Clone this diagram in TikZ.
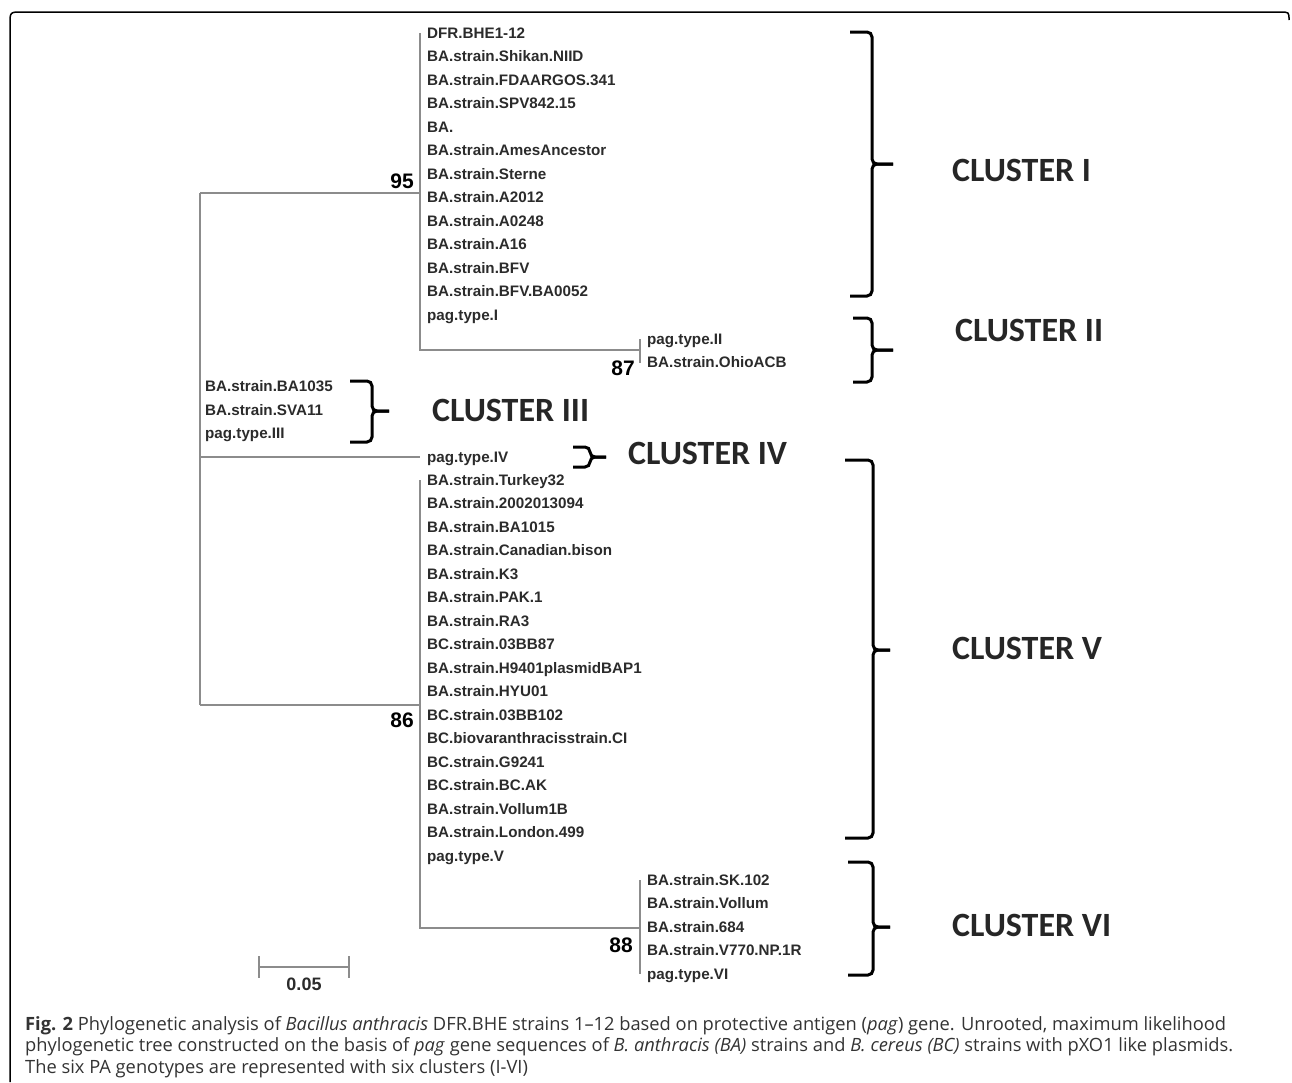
\documentclass[tikz,border=0pt]{standalone}
\usepackage{fontspec}
\usepackage{xcolor}
\usetikzlibrary{calc}
\newfontfamily\leaffont{Liberation Sans}
\newfontfamily\clfont{Carlito}
\newfontfamily\capfont{Open Sans}
\definecolor{branchgray}{HTML}{8C8C8C}
\definecolor{leafgray}{HTML}{2B2B2B}
\definecolor{capgray}{HTML}{333333}

\tikzset{
  branch/.style={branchgray, line width=1.4pt},
  leaf/.style={anchor=west, inner xsep=7pt, inner ysep=0pt, text height=10.7pt, text depth=0pt,
    text=leafgray, font=\leaffont\bfseries\fontsize{15.2}{18}\selectfont},
  boot/.style={anchor=east, inner sep=0pt, font=\leaffont\bfseries\fontsize{21}{24}\selectfont},
  clbrace/.style={line width=3pt, rounded corners=5pt},
  cllabel/.style={anchor=west, inner sep=0pt, text=black!85, font=\clfont\bfseries\fontsize{34}{40}\selectfont},
  caption/.style={anchor=north west, align=left, inner sep=0pt, text=capgray,
    font=\capfont\fontsize{18.3}{21.5}\selectfont},
}

% x0, x1, x2, top, mid, bottom
\newcommand{\clusterbrace}[6]{%
  \draw[clbrace] (#1,#4) -- (#2,#4) -- (#2,#5) -- (#3,#5);
  \draw[clbrace] (#3,#5) -- (#2,#5) -- (#2,#6) -- (#1,#6);
}

\begin{document}
\begin{tikzpicture}[x=1pt, y=-1pt]
  \useasboundingbox (0,0) rectangle (1292,1082);

  % frame
  \draw[line width=1.5pt] (10,1082) -- (10,24) .. controls (10,12) .. (22,12) -- (1280,12) .. controls (1289,12) .. (1289,20);

  % leaves
  \foreach \lbl [count=\i from 0] in {DFR.BHE1-12, BA.strain.Shikan.NIID, BA.strain.FDAARGOS.341,
      BA.strain.SPV842.15, BA., BA.strain.AmesAncestor, BA.strain.Sterne, BA.strain.A2012,
      BA.strain.A0248, BA.strain.A16, BA.strain.BFV, BA.strain.BFV.BA0052, pag.type.I}
    \node[leaf] (c1-\i) at (420,{33+23.5*\i}) {\lbl};
  \foreach \lbl [count=\i from 0] in {pag.type.II, BA.strain.OhioACB}
    \node[leaf] (c2-\i) at (640,{339+23.5*\i}) {\lbl};
  \foreach \lbl [count=\i from 0] in {BA.strain.BA1035, BA.strain.SVA11, pag.type.III}
    \node[leaf] (c3-\i) at (198,{386.5+23.5*\i}) {\lbl};
  \node[leaf] (c4) at (420,457) {pag.type.IV};
  \foreach \lbl [count=\i from 0] in {BA.strain.Turkey32, BA.strain.2002013094, BA.strain.BA1015,
      BA.strain.Canadian.bison, BA.strain.K3, BA.strain.PAK.1, BA.strain.RA3, BC.strain.03BB87,
      BA.strain.H9401plasmidBAP1, BA.strain.HYU01, BC.strain.03BB102, BC.biovaranthracisstrain.CI,
      BC.strain.G9241, BC.strain.BC.AK, BA.strain.Vollum1B, BA.strain.London.499, pag.type.V}
    \node[leaf] (c5-\i) at (420,{480+23.5*\i}) {\lbl};
  \foreach \lbl [count=\i from 0] in {BA.strain.SK.102, BA.strain.Vollum, BA.strain.684,
      BA.strain.V770.NP.1R, pag.type.VI}
    \node[leaf] (c6-\i) at (640,{880+23.5*\i}) {\lbl};

  % internal nodes
  \coordinate (r95) at (200,193);
  \coordinate (n95) at (420,193);
  \coordinate (r86) at (200,705);
  \coordinate (n86) at (420,705);
  \coordinate (r4) at (200,457);
  \coordinate (k87) at (420,350);
  \coordinate (n87) at (640,350);
  \coordinate (k88) at (420,928);
  \coordinate (n88) at (640,928);

  % branches
  \begin{scope}[branch]
    \draw (r95) -- (r86);
    \draw (r95) -- (n95);
    \draw (r86) -- (n86);
    \draw (r4) -- (c4.west);
    \draw (c1-0.west) -- (k87) -- (n87);
    \draw (c2-0.west) -- (c2-1.west);
    \draw (c5-0.west) -- (k88) -- (n88);
    \draw (c6-0.west) -- (c6-4.west);
  \end{scope}

  % bootstrap values
  \node[boot] (b95) at (414,181) {95};
  \node[boot] (b87) at (635,368) {87};
  \node[boot] (b86) at (414,720) {86};
  \node[boot] (b88) at (633,945) {88};

  % scale bar
  \coordinate (s1) at (259,967);
  \coordinate (s2) at (349,967);
  \draw[branchgray, line width=2pt] (s1) -- (s2);
  \draw[branchgray, line width=2pt] ($(s1)+(0,-11)$) -- ($(s1)+(0,11)$);
  \draw[branchgray, line width=2pt] ($(s2)+(0,-11)$) -- ($(s2)+(0,11)$);
  \node[leaf, anchor=center, inner xsep=0pt, font=\leaffont\bfseries\fontsize{18}{20}\selectfont,
    text height=13pt] (scl) at (304,984) {0.05};

  % braces
  \clusterbrace{850}{872}{893}{32}{164}{296}
  \clusterbrace{853}{872}{893}{318}{350}{382}
  \clusterbrace{350}{372}{389}{381}{411}{442}
  \clusterbrace{573}{590}{606}{447}{457}{467}
  \clusterbrace{845}{873}{890}{460}{650}{838}
  \clusterbrace{848}{873}{890}{862}{927}{975}

  \node[cllabel] (cl1) at (952,170) {CLUSTER I};
  \node[cllabel] (cl2) at (955,330) {CLUSTER II};
  \node[cllabel] (cl3) at (432,410) {CLUSTER III};
  \node[cllabel] (cl4) at (628,453) {CLUSTER IV};
  \node[cllabel] (cl5) at (952,648) {CLUSTER V};
  \node[cllabel] (cl6) at (952,925) {CLUSTER VI};

  % caption
  \node[caption] (cap) at (25,1016) {\textbf{Fig. 2} Phylogenetic analysis of \textit{Bacillus anthracis} DFR.BHE strains 1–12 based on protective antigen (\textit{pag}) gene. Unrooted, maximum likelihood\\
    phylogenetic tree constructed on the basis of \textit{pag} gene sequences of \textit{B. anthracis (BA)} strains and \textit{B. cereus (BC)} strains with pXO1 like plasmids.\\
    The six PA genotypes are represented with six clusters (I-VI)};
\end{tikzpicture}
\end{document}
